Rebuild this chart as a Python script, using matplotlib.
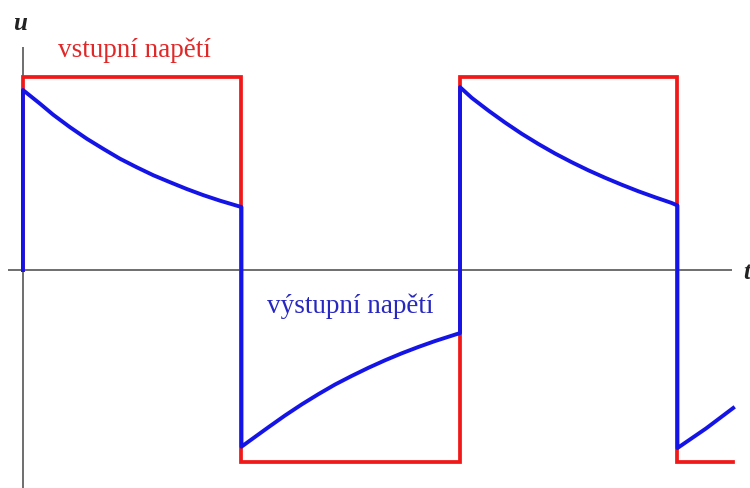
import matplotlib
matplotlib.use("Agg")
import matplotlib.pyplot as plt

# input square wave (red)
t_in = [0.0, 0.0, 1.0, 1.0, 2.0, 2.0, 2.995, 2.995, 3.25]
u_in = [0.0, 1.0, 1.0, -1.0, -1.0, 1.0, 1.0, -1.0, -1.0]

# output voltage (blue)
t_out = [0.0, 0.0, 0.078, 0.139, 0.215, 0.292, 0.368, 0.444, 0.520, 0.597,
         0.673, 0.749, 0.825, 0.902, 1.0,
         1.0, 1.062, 1.123, 1.199, 1.276, 1.352, 1.428, 1.505, 1.581, 1.657,
         1.733, 1.809, 1.886, 1.985, 2.0,
         2.0, 2.054, 2.130, 2.206, 2.282, 2.358, 2.435, 2.511, 2.587, 2.664,
         2.740, 2.816, 2.892, 2.969, 2.995,
         2.995, 3.126, 3.25]
u_out = [0.0, 0.935, 0.864, 0.806, 0.742, 0.682, 0.629, 0.578, 0.534, 0.492,
         0.456, 0.421, 0.389, 0.360, 0.327,
         -0.918, -0.867, -0.817, -0.756, -0.698, -0.645, -0.595, -0.550, -0.508, -0.469,
         -0.433, -0.400, -0.369, -0.333, -0.328,
         0.950, 0.894, 0.828, 0.766, 0.708, 0.655, 0.605, 0.560, 0.518, 0.479,
         0.443, 0.409, 0.378, 0.348, 0.335,
         -0.925, -0.823, -0.717]

label_in = "vstupní napětí"
label_out = "výstupní napětí"
label_u = "u"
label_t = "t"

fig = plt.figure(figsize=(7.5, 4.88), dpi=100)
ax = fig.add_axes([0, 0, 1, 1])
ax.set_xlim(-0.105, 3.327)
ax.set_ylim(-1.1325, 1.4026)
ax.axis("off")

axis_col = "#555555"
ax.plot([-0.07, 3.245], [0, 0], color=axis_col, lw=1.2, solid_capstyle="butt", zorder=1)
ax.plot([0, 0], [-1.1325, 1.158], color=axis_col, lw=1.2, solid_capstyle="butt", zorder=1)

ax.plot(t_in, u_in, color="#f01818", lw=2.7, solid_joinstyle="miter", zorder=2)
ax.plot(t_out, u_out, color="#1414e6", lw=2.8, solid_joinstyle="round", zorder=3)

serif = ["Liberation Serif", "DejaVu Serif"]
ax.text(0.508, 1.104, label_in, color="#e02828", fontsize=19.5, family=serif,
        ha="center", va="baseline")
ax.text(1.499, -0.223, label_out, color="#2828c0", fontsize=19.5, family=serif,
        ha="center", va="baseline")
ax.text(-0.014, 1.247, label_u, color="#222222", fontsize=18, family=serif,
        style="italic", fontweight="bold", ha="center", va="baseline")
ax.text(3.295, -0.047, label_t, color="#222222", fontsize=18, family=serif,
        style="italic", fontweight="bold", ha="left", va="baseline")

fig.savefig("out.png", dpi=100)
